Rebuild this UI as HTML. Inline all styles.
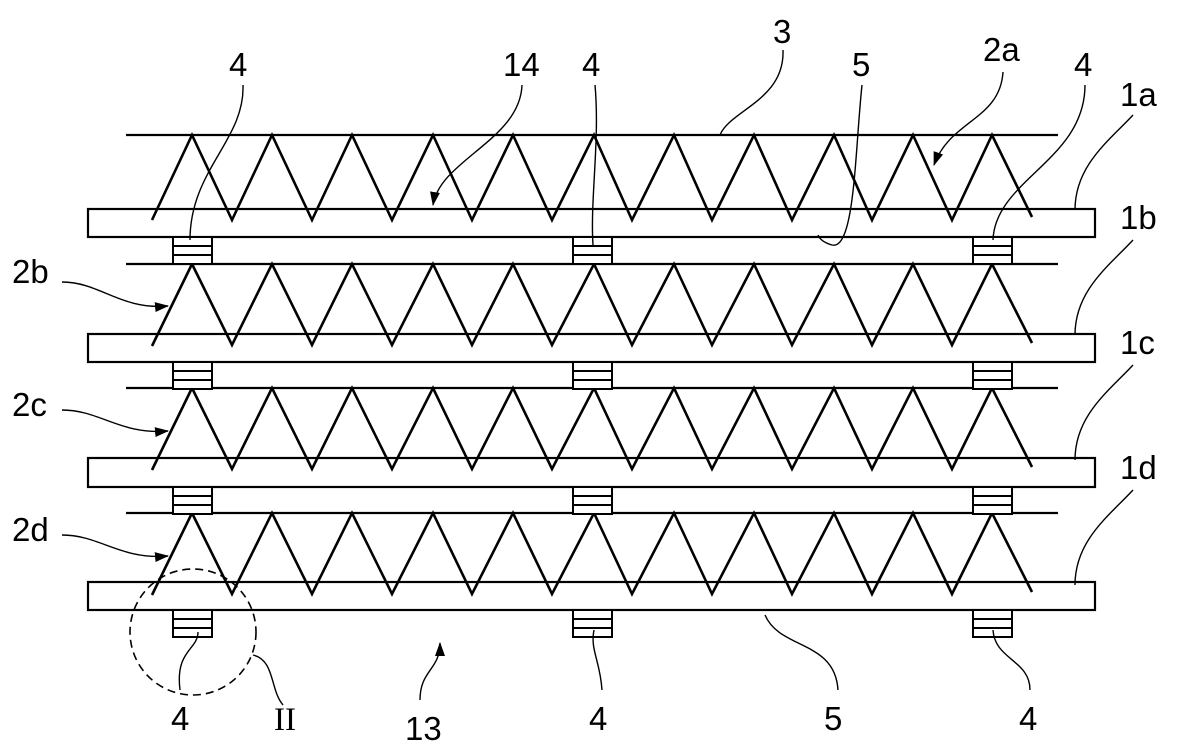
<!DOCTYPE html>
<html><head><style>
html,body{margin:0;padding:0;background:#fff;}
svg{display:block;}
text{font-family:"Liberation Sans",sans-serif;font-size:33px;fill:#000;}
</style></head><body>
<svg width="1200" height="750" viewBox="0 0 1200 750" xmlns="http://www.w3.org/2000/svg">
<defs>
<marker id="ah" markerWidth="14" markerHeight="10" refX="13" refY="5" orient="auto" markerUnits="userSpaceOnUse">
<path d="M0,0 L14,5 L0,10 z" fill="#000"/></marker>
</defs>
<g stroke="#000" stroke-width="2.2" fill="none">
<line x1="126" y1="135" x2="1058" y2="135"/>
<line x1="126" y1="264" x2="1058" y2="264"/>
<line x1="126" y1="388" x2="1058" y2="388"/>
<line x1="126" y1="513" x2="1058" y2="513"/>
<rect x="88" y="209" width="1007" height="28" fill="#fff"/>
<rect x="88" y="334" width="1007" height="28" fill="#fff"/>
<rect x="88" y="458" width="1007" height="29" fill="#fff"/>
<rect x="88" y="582" width="1007" height="28" fill="#fff"/>
</g>
<g stroke="#000" stroke-width="2.6" fill="none" stroke-linejoin="miter">
<polyline points="152,220 192,135 232,220 272,135 312,220 352,135 392,220 433,135 472,220 513,135 552,220 594,135 632,220 674,135 712,220 754,135 792,220 834,135 872,220 913,135 952,220 992,135 1032,217"/>
<polyline points="152,346 192,264 232,345 272,264 312,345 352,264 392,345 433,264 472,345 513,264 552,345 594,264 632,345 674,264 712,345 754,264 792,345 834,264 872,345 913,264 952,345 992,264 1032,343"/>
<polyline points="152,470 192,388 232,469 272,388 312,469 352,388 392,469 433,388 472,469 513,388 552,469 594,388 632,469 674,388 712,469 754,388 792,469 834,388 872,469 913,388 952,469 992,388 1032,467"/>
<polyline points="152,595 192,513 232,594 272,513 312,594 352,513 392,594 433,513 472,594 513,513 552,594 594,513 632,594 674,513 712,594 754,513 792,594 834,513 872,594 913,513 952,594 992,513 1032,592"/>
</g>
<g stroke="#000" stroke-width="2" fill="#fff">
<g id="sp"><rect x="173" y="237" width="39" height="27"/><line x1="173" y1="246" x2="212" y2="246"/><line x1="173" y1="255" x2="212" y2="255"/></g>
<use href="#sp" x="400"/><use href="#sp" x="800"/>
<use href="#sp" y="125"/><use href="#sp" x="400" y="125"/><use href="#sp" x="800" y="125"/>
<use href="#sp" y="250"/><use href="#sp" x="400" y="250"/><use href="#sp" x="800" y="250"/>
<use href="#sp" y="373"/><use href="#sp" x="400" y="373"/><use href="#sp" x="800" y="373"/>
</g>
<circle cx="193" cy="632" r="63" stroke="#000" stroke-width="1.6" fill="none" stroke-dasharray="8,5"/>
<g stroke="#000" stroke-width="1.4" fill="none">
<path d="M243,85 C245,140 190,170 190,240"/>
<path d="M522,85 C520,140 440,160 433,205" marker-end="url(#ah)"/>
<path d="M595,85 C600,140 590,200 593,245"/>
<path d="M783,50 C785,100 730,110 720,135"/>
<path d="M862,85 C855,150 855,250 832,245 C825,243 820,240 818,235"/>
<path d="M1003,72 C1000,120 950,120 934,165" marker-end="url(#ah)"/>
<path d="M1085,85 C1085,160 995,180 993,240"/>
<path d="M1133,115 C1110,140 1075,165 1075,210"/>
<path d="M1133,240 C1110,265 1075,290 1075,335"/>
<path d="M1133,365 C1110,390 1075,415 1075,460"/>
<path d="M1133,490 C1110,515 1075,540 1075,585"/>
<path d="M62,282 C100,282 120,310 168,306" marker-end="url(#ah)"/>
<path d="M62,410 C100,410 120,435 168,431" marker-end="url(#ah)"/>
<path d="M62,535 C100,535 120,560 168,556" marker-end="url(#ah)"/>
<path d="M180,690 C175,650 198,650 198,632"/>
<path d="M283,705 C270,690 275,660 253,655"/>
<path d="M420,700 C420,670 440,670 440,643" marker-end="url(#ah)"/>
<path d="M602,690 C600,660 590,650 594,630"/>
<path d="M838,690 C835,640 780,650 765,615"/>
<path d="M1030,690 C1030,660 995,660 993,630"/>
</g>
<text x="229" y="76">4</text>
<text x="503" y="76">14</text>
<text x="582" y="76">4</text>
<text x="773" y="43">3</text>
<text x="852" y="76">5</text>
<text x="983" y="61">2a</text>
<text x="1074" y="76">4</text>
<text x="1120" y="106">1a</text>
<text x="1120" y="229">1b</text>
<text x="1120" y="354">1c</text>
<text x="1120" y="479">1d</text>
<text x="12" y="283">2b</text>
<text x="12" y="416">2c</text>
<text x="12" y="541">2d</text>
<text x="171" y="730">4</text>
<text x="274" y="730" style="font-family:'Liberation Serif',serif">II</text>
<text x="405" y="740">13</text>
<text x="589" y="730">4</text>
<text x="824" y="730">5</text>
<text x="1019" y="730">4</text>
</svg>
</body></html>
